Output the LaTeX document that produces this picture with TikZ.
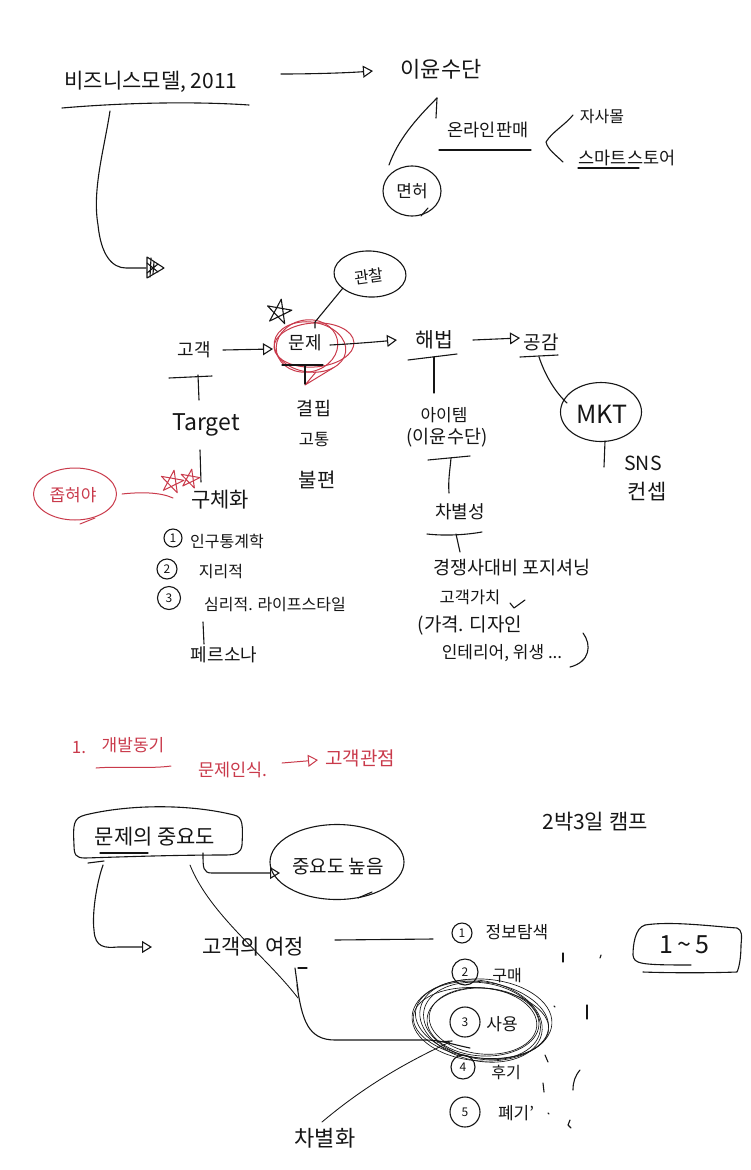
\documentclass[tikz,border=0pt]{standalone}
\usepackage{fontspec}
\setmainfont{Noto Sans CJK KR}
\usetikzlibrary{arrows.meta,shapes.geometric,calc}
\definecolor{redink}{HTML}{C93A4B}
\definecolor{ink}{HTML}{151515}
\tikzset{
  hw/.style={inner sep=0pt,text=ink,font=\fontsize{#1}{#1}\selectfont},
  hwred/.style={inner sep=0pt,text=redink,font=\fontsize{#1}{#1}\selectfont},
  pen/.style={draw=ink,line width=1.1pt,line cap=round,line join=round},
  redpen/.style={draw=redink,line width=1pt,line cap=round,line join=round},
  thinpen/.style={draw=ink,line width=.65pt,line cap=round},
  arr/.style={-{Triangle[open,length=10pt,width=12pt]}},
  oval/.style={shape=ellipse,inner sep=0pt},
  digit/.style={shape=circle,pen,inner sep=0pt,minimum size=#1,text=ink,font=\fontsize{12}{12}\selectfont},
  pentagram/.style={shift={#1}}
}
\newcommand{\handstar}[2]{(-80:#2) -- (64:#2) -- (208:#2) -- (352:#2) -- (136:#2) -- cycle}
\begin{document}
\begin{tikzpicture}[x=1pt,y=-1pt]
\useasboundingbox (0,0) rectangle (750,1170);

% --- top: business model
\node[hw=21] (bm) at (151,82) {비즈니스모델, 2011};
\coordinate (bmL) at (62,108); \coordinate (bmR) at (249,105);
\draw[pen] (bmL) .. controls (120,103) and (190,101) .. (bmR);
\coordinate (bmDown) at (110,111); \coordinate (bmTip) at (164,268);
\draw[pen] (bmDown) .. controls (104,150) and (92,190) .. (98,225) .. controls (101,255) and (112,268) .. (126,268) -- (146,268);
\draw[pen] (147,257) -- (bmTip) -- (147,278) -- cycle;
\draw[pen] (151,258) -- (150,277) (154,262) -- (153,274) (147,263) -- (158,272) (147,273) -- (158,264);
\node[hw=22] (profit) at (441,69) {이윤수단};
\coordinate (pa) at (281,74); \coordinate (pb) at (373,71);
\draw[pen,arr] (pa) .. controls (310,74) and (345,73) .. (pb);
\coordinate (lineA) at (437,98); \coordinate (lineB) at (389,165); \coordinate (lineC) at (436,118);
\draw[pen] (lineA) .. controls (415,120) and (398,140) .. (lineB);
\draw[pen] (lineA) -- (lineC);
\node[oval,pen,minimum width=58pt,minimum height=50pt] (license) at (412,191) {};
\node[hw=17] (licenseT) at (412,191) {면허};
\draw[pen] (421,216) -- (428,208);
\node[hw=17.5] (online) at (488,130) {온라인판매};
\draw[pen] (439,150) -- (531,150);
\node[hw=16] (own) at (602,117) {자사몰};
\node[hw=17.5] (store) at (627,158) {스마트스토어};
\draw[pen] (578,168) -- (639,168);
\coordinate (brace) at (546,142);
\draw[pen] (573,115) .. controls (565,125) and (552,132) .. (brace) .. controls (548,150) and (556,155) .. (563,162);

% --- middle: observation and problem
\node[oval,pen,minimum width=72pt,minimum height=46pt,rotate=-3] (watch) at (370,274) {};
\node[hw=16,rotate=8] (watchT) at (369,276) {관찰};
\draw[pen,shift={(279,312)}] \handstar{}{13};

\node[hw=18] (cust) at (194,350) {고객};
\node[hw=18] (prob) at (305,343) {문제};
\node[oval,redpen,minimum width=72pt,minimum height=50pt,rotate=-8] (rc1) at (310,347) {};
\node[oval,redpen,minimum width=80pt,minimum height=44pt,rotate=4] (rc2) at (314,345) {};
\node[oval,redpen,minimum width=62pt,minimum height=52pt,rotate=12] (rc3) at (307,346) {};
\draw[redpen] (333,368) -- (305,385) -- (316,372);
\coordinate (wt) at (315,328);
\draw[pen] (343,288) -- (315,322) -- (wt);
\coordinate (cs) at (223,350); \coordinate (ct) at (273,349);
\draw[pen,arr] (cs) -- (ct);
\node[hw=20.5] (sol) at (434,340) {해법};
\coordinate (ss) at (330,345); \coordinate (st) at (397,340);
\draw[pen,arr] (ss) .. controls (350,344) and (375,342) .. (st);
\node[hw=19] (emp) at (541,342) {공감};
\coordinate (es) at (473,340); \coordinate (et) at (520,338);
\draw[pen,arr] (es) -- (et);

% under 문제
\coordinate (pL) at (282,365); \coordinate (pR) at (323,365); \coordinate (pS) at (305,384);
\draw[pen] (pL) -- (pR);
\draw[pen] (305,365) -- (pS);
\node[hw=18.5] (lack) at (314,408) {결핍};
\node[hw=16.5] (pain) at (314,440) {고통};
\node[hw=20] (incon) at (317,480) {불편};

% under 고객
\coordinate (cL) at (169,378); \coordinate (cR) at (212,376);
\draw[pen] (cL) -- (cR);
\node[hw=23] (target) at (206,425) {Target};
\draw[pen] (198,375) -- (199,400);
\draw[pen] (200,450) -- (201,482);
\node[hw=21] (conc) at (220,500) {구체화};
\draw[redpen,shift={(172,482)}] \handstar{}{12};
\draw[redpen,shift={(190,479)}] \handstar{}{10};
\node[oval,redpen,minimum width=83pt,minimum height=52pt] (narrow) at (75,494) {};
\node[hwred=17] (narrowT) at (73,495) {좁혀야};
\coordinate (nt) at (173,498);
\draw[redpen] (122,494) .. controls (140,492) and (160,492) .. (nt);
\draw[redpen] (80,524) -- (95,518);

\node[digit=18pt] (d1) at (173,538) {1};
\node[hw=16] (demo) at (227,541) {인구통계학};
\node[digit=20pt] (d2) at (167,569) {2};
\node[hw=16] (geo) at (221,572) {지리적};
\node[digit=23pt] (d3) at (169,598) {3};
\node[hw=16] (psy) at (275,605) {심리적. 라이프스타일};
\coordinate (perTop) at (203,622); \coordinate (perEnd) at (204,644);
\draw[pen] (perTop) -- (perEnd);
\node[hw=18] (persona) at (224,655) {페르소나};

% under 해법
\draw[pen] (408,360) -- (457,354);
\draw[pen] (434,357) -- (434,393);
\node[hw=17] (item) at (444,415) {아이템};
\node[hw=18.5] (itemb) at (447,438) {(이윤수단)};
\draw[pen] (428,460) -- (470,456);
\draw[pen] (451,458) .. controls (450,470) and (448,480) .. (449,493);
\node[hw=18] (diff) at (460,512) {차별성};
\draw[pen] (427,534) .. controls (445,536) and (465,535) .. (482,532);
\draw[pen] (456,534) -- (460,552);
\node[hw=18.5] (pos) at (512,568) {경쟁사대비 포지셔닝};
\node[hw=16.5] (val) at (470,597) {고객가치};
\draw[pen] (510,603) -- (514,608) -- (525,600);
\node[hw=19] (list1) at (470,625) {(가격. 디자인};
\node[hw=17] (list2) at (502,653) {인테리어, 위생 ...};
\draw[pen] (583,633) .. controls (592,645) and (590,662) .. (570,667);

% under 공감
\draw[pen] (520,357) -- (558,355);
\node[oval,pen,minimum width=81pt,minimum height=59pt] (mkt) at (601,412) {};
\node[hw=25] (mktT) at (602,414) {MKT};
\coordinate (mktI) at (567,403);
\draw[pen] (539,357) .. controls (545,375) and (555,392) .. (mktI);
\coordinate (mktS) at (604,467);
\draw[pen] (605,441) -- (mktS);
\node[hw=19.5] (sns) at (643,463) {SNS};
\node[hw=21] (concept) at (647,492) {컨셉};

% --- red heading
\node[hwred=17] (one) at (79,748) {1.};
\node[hwred=17] (motive) at (133,745) {개발동기};
\draw[redpen] (96,768) .. controls (120,766) and (150,769) .. (171,766);
\node[hwred=17.5] (aware) at (233,770) {문제인식.};
\node[hwred=19] (view) at (360,758) {고객관점};
\coordinate (as) at (282,763); \coordinate (at) at (318,760);
\draw[redpen,arr] (as) -- (at);
\node[hw=21] (camp) at (595,822) {2박3일 캠프};

% --- importance
\node[hw=21] (impT) at (155,837) {문제의 중요도};
\draw[pen] (85,815) .. controls (130,804) and (190,804) .. (234,815) .. controls (243,817) and (243,825) .. (242,845) .. controls (241,853) and (236,855) .. (225,855) .. controls (170,855) and (120,857) .. (85,858) .. controls (76,858) and (74,855) .. (74,845) .. controls (73,825) and (73,818) .. (85,815) -- cycle;
\draw[pen] (100,853) -- (148,853);
\draw[pen] (88,863) -- (104,861);
\node[oval,pen,minimum width=134pt,minimum height=75pt] (high) at (337,862) {};
\node[hw=19] (highT) at (338,867) {중요도 높음};
\coordinate (hs) at (203,853); \coordinate (ht) at (280,873);
\draw[pen,arr] (hs) .. controls (203,868) and (203,873) .. (212,873) -- (ht);
\draw[pen] (358,898) -- (372,892);
\node[hw=21] (journey) at (253,947) {고객의 여정};
\coordinate (js) at (103,865); \coordinate (jt) at (152,947);
\draw[pen,arr] (js) .. controls (96,885) and (92,915) .. (94,930) .. controls (95,948) and (105,948) .. (118,947) -- (jt);
\coordinate (ja) at (335,940); \coordinate (jb) at (433,939);
\draw[pen] (ja) -- (jb);

\node[digit=20pt] (s1) at (462,933) {1};
\node[hw=17] (s1T) at (517,932) {정보탐색};
\node[digit=26pt] (s2) at (465,972) {2};
\node[hw=16] (s2T) at (507,976) {구매};
\node[digit=30pt] (s3) at (465,1022) {3};
\node[hw=17] (s3T) at (502,1024) {사용};
\node[digit=24pt] (s4) at (463,1067) {4};
\node[hw=16] (s4T) at (506,1072) {후기};
\node[digit=30pt] (s5) at (465,1112) {5};
\node[hw=17] (s5T) at (516,1113) {폐기'};

\foreach \n/\rw/\rh/\a/\cx/\cy in {a/140/82/-3/482/1020,b/134/76/-8/482/1020,c/112/68/-3/483/1022,d/124/80/-12/481/1021,e/136/70/-6/481/1023,f/118/76/-10/482/1021,g/108/66/-6/483/1021}
  \node[oval,thinpen,minimum width=\rw pt,minimum height=\rh pt,rotate=\a] (sc\n) at (\cx,\cy) {};

\draw[pen] (298,968) -- (307,968);
\draw[pen] (295,968) -- (298,990);
\draw[thinpen,line width=.85pt] (190,865) .. controls (210,915) and (265,955) .. (298,998);
\coordinate (ea) at (470,1048);
\draw[pen] (297,985) .. controls (302,1020) and (308,1040) .. (335,1040) -- (427,1040) .. controls (440,1040) and (455,1045) .. (ea);
\draw[pen] (437,1042) -- (452,1041);
\node[hw=22] (fin) at (325,1138) {차별화};
\coordinate (fa) at (322,1122); \coordinate (fb) at (450,1042);
\draw[thinpen,line width=.85pt] (fa) .. controls (360,1090) and (400,1065) .. (fb);

\draw[pen] (563,953) -- (563,962);
\draw[pen] (601,955) -- (600,958);
\draw[pen] (554,1006) -- (555,1007);
\draw[pen] (587,1005) -- (587,1019);
\draw[pen] (545,1055) -- (548,1062);
\draw[pen] (580,1070) .. controls (575,1076) and (573,1082) .. (573,1090);
\draw[pen] (543,1083) -- (544,1092);
\draw[pen] (548,1113) -- (549,1114);
\draw[pen] (570,1120) -- (568,1125) -- (571,1128);

\node[hw=25] (rangeT) at (684,945) {1\,\textasciitilde\,5};
\draw[pen] (645,925) .. controls (670,921) and (710,926) .. (737,928) .. controls (742,930) and (742,935) .. (741,945) .. controls (741,958) and (739,968) .. (737,972) .. controls (710,973) and (670,973) .. (643,972);
\draw[pen] (645,925) .. controls (635,928) and (633,945) .. (633,955) .. controls (634,964) and (640,965) .. (691,965);
\end{tikzpicture}
\end{document}
